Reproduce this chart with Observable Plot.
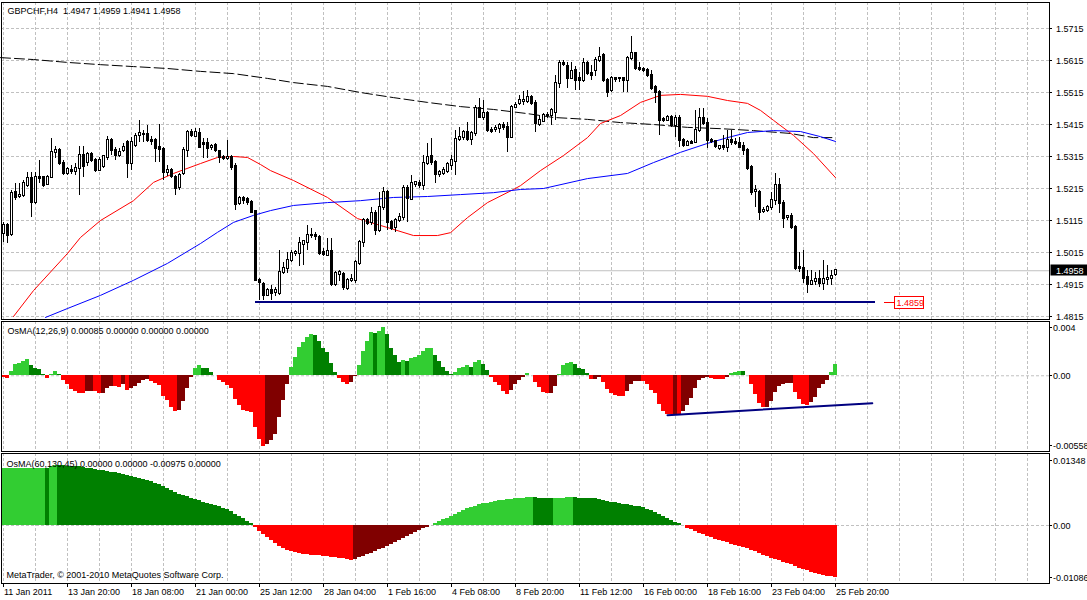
<!DOCTYPE html>
<html><head><meta charset="utf-8"><title>GBPCHF,H4</title>
<script src="https://cdn.jsdelivr.net/npm/d3@7"></script>
<script src="https://cdn.jsdelivr.net/npm/@observablehq/plot@0.6"></script>
<style>
html,body{margin:0;padding:0;background:#fff;overflow:hidden;}
#chart{position:relative;width:1087px;height:600px;background:#fff;}
#chart svg{position:absolute;left:0;display:block;}
</style></head><body><div id="chart"></div>
<script>
// ---------- texts ----------
const symbolTitle = "GBPCHF,H4\u00a0\u00a01.4947 1.4959 1.4941 1.4958";
const osma1Title = "OsMA(12,26,9) 0.00085 0.00000 0.00000 0.00000";
const osma2Title = "OsMA(60,130,45) 0.00000 0.00000 -0.00975 0.00000";
const copyright = "MetaTrader, \u00a9 2001-2010 MetaQuotes Software Corp.";

// ---------- H4 candles (bar 0 = 11 Jan 2011, bar 208 = 25 Feb 20:00) ----------
const opens = [1.5075,1.5099,1.5071,1.5203,1.5190,1.5193,1.5225,1.5246,1.5172,1.5249,
1.5249,1.5228,1.5249,1.5328,1.5334,1.5293,1.5262,1.5271,1.5268,1.5278,
1.5318,1.5296,1.5321,1.5303,1.5271,1.5284,1.5312,1.5365,1.5334,1.5318,
1.5334,1.5359,1.5293,1.5349,1.5381,1.5384,1.5384,1.5365,1.5365,1.5343,
1.5337,1.5265,1.5271,1.5249,1.5218,1.5262,1.5334,1.5390,1.5378,1.5387,
1.5356,1.5356,1.5343,1.5349,1.5331,1.5312,1.5309,1.5312,1.5284,1.5168,
1.5184,1.5181,1.5172,1.5143,1.4928,1.4915,1.4881,1.4896,1.4890,1.4887,
1.4953,1.4965,1.4990,1.5012,1.5012,1.5040,1.5047,1.5068,1.5068,1.5062,
1.5015,1.5006,1.5018,1.4915,1.4946,1.4946,1.4903,1.4928,1.4928,1.4981,
1.5047,1.5115,1.5109,1.5137,1.5084,1.5156,1.5203,1.5109,1.5093,1.5115,
1.5124,1.5215,1.5181,1.5228,1.5231,1.5225,1.5293,1.5315,1.5296,1.5259,
1.5262,1.5268,1.5287,1.5299,1.5368,1.5374,1.5390,1.5368,1.5387,1.5465,
1.5437,1.5450,1.5396,1.5399,1.5402,1.5412,1.5406,1.5374,1.5468,1.5481,
1.5487,1.5487,1.5499,1.5481,1.5415,1.5424,1.5443,1.5443,1.5452,1.5543,
1.5606,1.5596,1.5559,1.5584,1.5559,1.5553,1.5606,1.5574,1.5584,1.5615,
1.5631,1.5553,1.5521,1.5559,1.5559,1.5559,1.5553,1.5621,1.5637,1.5590,
1.5587,1.5584,1.5568,1.5531,1.5515,1.5431,1.5428,1.5437,1.5412,1.5434,
1.5365,1.5349,1.5359,1.5359,1.5396,1.5434,1.5418,1.5365,1.5362,1.5340,
1.5346,1.5343,1.5365,1.5359,1.5356,1.5346,1.5334,1.5281,1.5206,1.5203,
1.5143,1.5146,1.5156,1.5178,1.5225,1.5168,1.5124,1.5128,1.5093,1.4968,
1.4965,1.4937,1.4915,1.4924,1.4931,1.4918,1.4931,1.4934,1.4947];
const highs = [1.5109,1.5106,1.5209,1.5231,1.5231,1.5240,1.5265,1.5265,1.5265,1.5303,
1.5253,1.5256,1.5371,1.5346,1.5340,1.5303,1.5281,1.5287,1.5293,1.5346,
1.5346,1.5328,1.5328,1.5309,1.5312,1.5318,1.5378,1.5371,1.5343,1.5340,
1.5356,1.5365,1.5374,1.5387,1.5428,1.5396,1.5412,1.5378,1.5371,1.5415,
1.5343,1.5287,1.5278,1.5256,1.5262,1.5343,1.5396,1.5399,1.5402,1.5402,
1.5371,1.5371,1.5353,1.5356,1.5334,1.5318,1.5365,1.5318,1.5293,1.5190,
1.5190,1.5187,1.5178,1.5146,1.4934,1.4921,1.4903,1.4912,1.4906,1.5021,
1.4984,1.5015,1.5021,1.5021,1.5062,1.5053,1.5099,1.5090,1.5078,1.5068,
1.5028,1.5059,1.5059,1.4956,1.4959,1.4953,1.4934,1.4946,1.4990,1.5053,
1.5121,1.5121,1.5156,1.5146,1.5203,1.5218,1.5209,1.5115,1.5121,1.5137,
1.5225,1.5225,1.5256,1.5234,1.5240,1.5318,1.5356,1.5371,1.5303,1.5271,
1.5281,1.5296,1.5318,1.5396,1.5406,1.5396,1.5421,1.5393,1.5474,1.5496,
1.5490,1.5456,1.5406,1.5412,1.5418,1.5421,1.5421,1.5474,1.5484,1.5506,
1.5518,1.5521,1.5506,1.5490,1.5443,1.5449,1.5452,1.5465,1.5568,1.5615,
1.5615,1.5609,1.5609,1.5596,1.5578,1.5621,1.5612,1.5599,1.5624,1.5656,
1.5637,1.5559,1.5565,1.5562,1.5562,1.5562,1.5628,1.5690,1.5640,1.5609,
1.5593,1.5590,1.5584,1.5537,1.5521,1.5437,1.5443,1.5443,1.5443,1.5443,
1.5371,1.5365,1.5365,1.5459,1.5465,1.5465,1.5434,1.5371,1.5365,1.5349,
1.5381,1.5396,1.5396,1.5371,1.5374,1.5359,1.5340,1.5287,1.5225,1.5209,
1.5156,1.5162,1.5203,1.5262,1.5246,1.5178,1.5131,1.5137,1.5099,1.5015,
1.5021,1.4959,1.4959,1.4953,1.4959,1.4990,1.4974,1.4959,1.4959];
const lows = [1.5047,1.5044,1.5065,1.5178,1.5184,1.5187,1.5218,1.5124,1.5165,1.5231,
1.5218,1.5225,1.5246,1.5309,1.5287,1.5256,1.5256,1.5259,1.5256,1.5193,
1.5249,1.5284,1.5296,1.5265,1.5268,1.5278,1.5303,1.5318,1.5303,1.5312,
1.5328,1.5246,1.5271,1.5343,1.5359,1.5359,1.5359,1.5349,1.5296,1.5296,
1.5240,1.5253,1.5246,1.5193,1.5209,1.5256,1.5312,1.5374,1.5374,1.5340,
1.5309,1.5309,1.5334,1.5328,1.5293,1.5303,1.5303,1.5271,1.5146,1.5162,
1.5165,1.5162,1.5137,1.4924,1.4865,1.4865,1.4878,1.4865,1.4878,1.4881,
1.4946,1.4949,1.4984,1.5003,1.4971,1.4974,1.5021,1.5059,1.5053,1.5006,
1.5003,1.5003,1.4909,1.4909,1.4924,1.4896,1.4896,1.4921,1.4918,1.4974,
1.5031,1.5099,1.5099,1.5068,1.5078,1.5146,1.5084,1.5084,1.5078,1.5109,
1.5115,1.5109,1.5178,1.5218,1.5215,1.5209,1.5287,1.5287,1.5231,1.5249,
1.5256,1.5262,1.5271,1.5256,1.5362,1.5365,1.5362,1.5349,1.5378,1.5434,
1.5428,1.5390,1.5387,1.5390,1.5387,1.5396,1.5328,1.5371,1.5465,1.5474,
1.5474,1.5481,1.5474,1.5390,1.5409,1.5421,1.5434,1.5412,1.5428,1.5528,
1.5596,1.5528,1.5556,1.5521,1.5521,1.5546,1.5568,1.5553,1.5565,1.5609,
1.5546,1.5499,1.5515,1.5546,1.5546,1.5515,1.5515,1.5615,1.5584,1.5581,
1.5578,1.5562,1.5521,1.5481,1.5381,1.5421,1.5428,1.5406,1.5374,1.5343,
1.5343,1.5346,1.5353,1.5356,1.5390,1.5412,1.5340,1.5356,1.5340,1.5334,
1.5334,1.5328,1.5349,1.5349,1.5340,1.5318,1.5271,1.5193,1.5156,1.5115,
1.5137,1.5140,1.5146,1.5162,1.5137,1.5090,1.5115,1.5087,1.4959,1.4953,
1.4918,1.4887,1.4912,1.4912,1.4906,1.4896,1.4912,1.4912,1.4941];
const closes = [1.5099,1.5068,1.5200,1.5187,1.5193,1.5231,1.5246,1.5172,1.5249,1.5246,
1.5225,1.5249,1.5328,1.5334,1.5293,1.5262,1.5274,1.5268,1.5278,1.5318,
1.5284,1.5321,1.5303,1.5271,1.5303,1.5315,1.5365,1.5334,1.5318,1.5328,
1.5343,1.5293,1.5359,1.5378,1.5387,1.5384,1.5365,1.5362,1.5340,1.5337,
1.5265,1.5271,1.5253,1.5215,1.5256,1.5334,1.5390,1.5381,1.5390,1.5343,
1.5353,1.5340,1.5346,1.5334,1.5312,1.5309,1.5312,1.5281,1.5165,1.5184,
1.5178,1.5172,1.5140,1.4928,1.4921,1.4881,1.4896,1.4887,1.4896,1.4953,
1.4965,1.4990,1.5012,1.5015,1.5044,1.5050,1.5068,1.5068,1.5065,1.5012,
1.5009,1.5018,1.4915,1.4949,1.4953,1.4906,1.4928,1.4931,1.4984,1.5047,
1.5115,1.5106,1.5137,1.5084,1.5156,1.5203,1.5109,1.5090,1.5115,1.5124,
1.5215,1.5184,1.5231,1.5234,1.5225,1.5293,1.5312,1.5296,1.5259,1.5265,
1.5271,1.5290,1.5303,1.5368,1.5374,1.5390,1.5368,1.5387,1.5465,1.5437,
1.5450,1.5396,1.5393,1.5402,1.5412,1.5406,1.5374,1.5468,1.5474,1.5490,
1.5490,1.5499,1.5481,1.5418,1.5428,1.5443,1.5443,1.5459,1.5543,1.5606,
1.5603,1.5559,1.5581,1.5553,1.5553,1.5606,1.5574,1.5568,1.5615,1.5624,
1.5553,1.5515,1.5559,1.5556,1.5559,1.5553,1.5621,1.5637,1.5590,1.5587,
1.5584,1.5568,1.5528,1.5515,1.5428,1.5428,1.5437,1.5412,1.5434,1.5365,
1.5349,1.5359,1.5356,1.5396,1.5434,1.5418,1.5365,1.5362,1.5346,1.5346,
1.5343,1.5365,1.5359,1.5356,1.5343,1.5334,1.5278,1.5203,1.5209,1.5140,
1.5146,1.5156,1.5178,1.5225,1.5168,1.5121,1.5128,1.5093,1.4965,1.4965,
1.4934,1.4915,1.4924,1.4931,1.4918,1.4931,1.4934,1.4940,1.4958];

// ---------- moving averages (bar index, price) ----------
const redMAIdx = [2.5,7.5,16,19.25,24.25,32.5,37.5,42.5,49.25,53.5,57.5,61,64.25,66.75,72.5,81,88.5,96,102.5,108.5,111.75,116,121,127.5,129.25,134.25,140,146,149.25,154.25,159.25,164.25,169.25,176,181,186,189.25,192.5,197.5,202.5,208];
const redMA = [1.4815,1.4896,1.5012,1.5062,1.5115,1.5177,1.5234,1.5262,1.5293,1.5312,1.5315,1.5312,1.5290,1.5271,1.5240,1.5187,1.5121,1.5093,1.5068,1.5068,1.5077,1.5124,1.5171,1.5212,1.5224,1.5271,1.5318,1.5374,1.5418,1.5443,1.5484,1.5506,1.5509,1.5503,1.5490,1.5481,1.5459,1.5428,1.5381,1.5324,1.5249];
const blueMAIdx = [10.5,16,24.25,32.5,41,49.25,53.5,57.5,62.5,66.75,72.5,81,89.25,97.5,106,114.25,122.5,129.25,135,146,156,162.5,169.25,176,181,186,192.5,199.25,204.25,208];
const blueMA = [1.4812,1.4840,1.4881,1.4928,1.4981,1.5043,1.5078,1.5109,1.5131,1.5146,1.5162,1.5171,1.5177,1.5187,1.5190,1.5196,1.5202,1.5212,1.5215,1.5246,1.5262,1.5296,1.5328,1.5356,1.5374,1.5390,1.5396,1.5393,1.5377,1.5362];
const blackMAIdx = [-0.75,7.5,16,24.25,32.5,41,49.25,57.5,66,72.5,81,89.25,97.5,106,114.25,122.5,131,137.5,146,154.25,162.5,171,179.25,187.5,196.75,202.5,208];
const blackMA = [1.5624,1.5618,1.5609,1.5602,1.5596,1.5590,1.5581,1.5574,1.5559,1.5546,1.5534,1.5515,1.5499,1.5484,1.5471,1.5462,1.5449,1.5437,1.5431,1.5421,1.5415,1.5406,1.5402,1.5396,1.5387,1.5374,1.5374];

const priceTicks = [1.5715,1.5615,1.5515,1.5415,1.5315,1.5215,1.5115,1.5015,1.4915,1.4815];
const bidPrice = 1.4958;
const supportLine = [{i1: 63, i2: 218, price: 1.4859}];
const supportLabel = "1.4859";

// ---------- OsMA(12,26,9) ----------
const osma1 = [-0.00009,-0.00018,0.00032,0.00081,0.00088,0.00106,0.00118,0.00073,0.00051,0.00049,
0.00009,-0.00022,0.00009,0.00032,0.00009,-0.00035,-0.00066,-0.00101,-0.00115,-0.00127,
-0.00129,-0.00115,-0.00113,-0.00115,-0.00133,-0.00127,-0.00096,-0.00079,-0.0008,-0.00083,
-0.00066,-0.00108,-0.00096,-0.00079,-0.00054,-0.00037,-0.00029,-0.00042,-0.00059,-0.00071,
-0.0015,-0.00181,-0.00236,-0.00265,-0.00255,-0.00189,-0.00096,-0.00015,0.00051,0.00073,
0.00057,0.00051,0.00027,0.00003,-0.00035,-0.00053,-0.00071,-0.00096,-0.00177,-0.00221,
-0.00256,-0.00265,-0.00274,-0.0038,-0.00469,-0.00522,-0.00508,-0.00477,-0.00433,-0.00309,
-0.00181,-0.00062,0.00059,0.00137,0.00212,0.00248,0.00283,0.00301,0.00299,0.00256,
0.00203,0.00168,0.00093,0.00027,-0.00022,-0.00053,-0.00062,-0.00053,-0.00005,0.00076,
0.00177,0.00256,0.00318,0.00315,0.00327,0.00354,0.00301,0.00203,0.0015,0.00096,
0.00111,0.00106,0.0013,0.00137,0.0015,0.00177,0.00199,0.00203,0.0015,0.00106,
0.00059,0.00032,0.00009,0.00022,0.00051,0.00059,0.00073,0.00064,0.00096,0.00111,
0.00081,0.00037,-0.00015,-0.00047,-0.00071,-0.00113,-0.00141,-0.00108,-0.00064,-0.00035,
-0.00009,0.00015,0.00004,-0.00051,-0.00088,-0.0012,-0.00133,-0.00131,-0.00079,0.00009,
0.00076,0.00088,0.00096,0.00081,0.00051,0.00044,0.00015,-0.00029,-0.00027,-0.00015,
-0.00051,-0.00101,-0.00133,-0.00145,-0.00152,-0.00154,-0.00115,-0.00064,-0.00042,-0.0004,
-0.00042,-0.00064,-0.00108,-0.00133,-0.00212,-0.0026,-0.00287,-0.00289,-0.00287,-0.00292,
-0.00265,-0.00221,-0.00168,-0.00096,-0.00035,-0.00022,-0.00015,-0.00018,-0.00027,-0.00028,
-0.00029,-0.00015,0.00015,0.00027,0.00032,0.0003,0.00003,-0.00066,-0.00141,-0.00203,
-0.00236,-0.00234,-0.00189,-0.0012,-0.00079,-0.00066,-0.0006,-0.00058,-0.00124,-0.00177,
-0.00212,-0.00221,-0.00195,-0.00162,-0.00096,-0.00064,-0.00035,0.00027,0.00085];
const trendIdx = [166, 217.2];
const trendVal = [-0.0029, -0.00202];
const axis2Values = [0.004, 0, -0.00558];
const axis2Labels = ["0.004", "0.00", "-0.00558"];

// ---------- OsMA(60,130,45) ----------
const osma2 = [0.01061,0.01062,0.01063,0.01064,0.01065,0.01067,0.01068,0.01069,0.0107,0.01071,
0.01073,0.0107,0.01098,0.01123,0.01117,0.01114,0.01111,0.01108,0.01104,0.01098,
0.01086,0.01073,0.01061,0.01048,0.01036,0.01023,0.01017,0.00998,0.00986,0.00973,
0.00955,0.00942,0.00924,0.00905,0.00886,0.00867,0.00849,0.00824,0.00792,0.00761,
0.00724,0.00686,0.00649,0.00612,0.00587,0.00562,0.00537,0.00512,0.00487,0.00462,
0.00437,0.00412,0.00393,0.00374,0.00349,0.00324,0.00293,0.00256,0.00212,0.00168,
0.00125,0.00081,0.00037,-0.00044,-0.00112,-0.00175,-0.00225,-0.00281,-0.00337,-0.00387,
-0.00424,-0.00462,-0.00487,-0.00512,-0.00524,-0.00537,-0.00549,-0.00555,-0.00562,-0.00568,
-0.0058,-0.00587,-0.00599,-0.00605,-0.00612,-0.00624,-0.00636,-0.00655,-0.0063,-0.00605,
-0.00574,-0.00549,-0.00518,-0.00487,-0.00456,-0.00424,-0.00387,-0.00356,-0.00318,-0.00287,
-0.0025,-0.00212,-0.00175,-0.00137,-0.001,-0.00062,-0.00031,-0.00006,0.00031,0.00069,
0.00106,0.00137,0.00175,0.00206,0.00243,0.00281,0.00312,0.00337,0.00362,0.00387,
0.00406,0.00418,0.00437,0.00449,0.00462,0.00474,0.00487,0.00493,0.00499,0.00505,
0.00512,0.00515,0.00518,0.00515,0.00512,0.00509,0.00505,0.00502,0.00505,0.00509,
0.00512,0.00515,0.00518,0.00515,0.00512,0.00509,0.00505,0.00502,0.00499,0.00487,
0.00468,0.00449,0.00437,0.00424,0.00412,0.00399,0.00387,0.00374,0.00362,0.00349,
0.00331,0.00306,0.00275,0.00243,0.00212,0.00175,0.00137,0.001,0.00062,0.00031,
0.00006,-0.0005,-0.00081,-0.00112,-0.00144,-0.00175,-0.00206,-0.00231,-0.00256,-0.00281,
-0.00306,-0.00324,-0.00349,-0.00374,-0.00393,-0.00418,-0.00437,-0.00462,-0.00493,-0.00524,
-0.00555,-0.00587,-0.00612,-0.00636,-0.00661,-0.00686,-0.00711,-0.00736,-0.00768,-0.00799,
-0.00824,-0.00849,-0.00874,-0.00899,-0.00917,-0.00936,-0.00948,-0.00961,-0.00975];
const axis3Values = [0.01348, 0, -0.01086];
const axis3Labels = ["0.01348", "0.00", "-0.01086"];

// ---------- time axis ----------
const timeIdx = [0,16,32,48,64,80,96,112,128,144,160,176,192,208];
const timeLabels = ["11 Jan 2011","13 Jan 20:00","18 Jan 08:00","21 Jan 00:00","25 Jan 12:00","28 Jan 04:00","1 Feb 16:00","4 Feb 08:00","8 Feb 20:00","11 Feb 12:00","16 Feb 00:00","18 Feb 16:00","23 Feb 04:00","25 Feb 20:00"];
const gridIdx = [0,8,16,24,32,40,48,56,64,72,80,88,96,104,112,120,128,136,144,152,160,168,176,184,192,200,208,216,224,232,240,248,256];

// ---------- rendering ----------
const FONT = "'Liberation Sans', Arial, sans-serif";
const W = 1087;
const GRID = "#c0c0c0";
const COL = {lg: "#32cd32", dg: "#008000", rd: "#ff0000", dr: "#800000"};
const XSCALE = {domain: [0, 208], range: [3, 835], axis: null};
const STYLE = {fontFamily: FONT, fontSize: "9px", color: "black", background: "white", overflow: "visible"};

const bars = closes.map((c, i) => ({i, o: opens[i], h: highs[i], l: lows[i], c}));
function hist(vals) {
  return vals.map((v, i) => {
    const p = i > 0 ? vals[i - 1] : null;
    let fillColor;
    if (v >= 0) fillColor = (p === null || v > p) ? COL.lg : COL.dg;
    else fillColor = (p === null || v < p) ? COL.rd : COL.dr;
    return {i, v, fillColor};
  });
}
function group() {
  return d3.create("svg:g").attr("font-family", FONT).attr("font-size", 9).attr("text-anchor", "start");
}

function rightAxis(values, labels, offsets, textGap) {
  return (index, scales, vals, dims) => {
    const g = group().attr("fill", "black");
    const x0 = dims.width - dims.marginRight;
    values.forEach((v, k) => {
      const yy = Math.round(scales.y(v) + (offsets ? offsets[k] : 0)) + 0.5;
      g.append("line").attr("x1", x0).attr("x2", x0 + 3).attr("y1", yy).attr("y2", yy).attr("stroke", "black");
      g.append("text").attr("x", x0 + textGap).attr("y", yy).attr("dy", "0.35em").text(labels[k]);
    });
    return g.node();
  };
}

const bidMark = (index, scales, vals, dims) => {
  const g = group();
  const x0 = dims.width - dims.marginRight;
  const yy = Math.round(scales.y(bidPrice));
  g.append("rect").attr("x", x0 + 1.5).attr("y", yy - 5.5).attr("width", dims.width - x0).attr("height", 11).attr("fill", "black");
  g.append("text").attr("x", x0 + 7).attr("y", yy + 0.5).attr("dy", "0.35em").attr("fill", "white").text(bidPrice.toFixed(4));
  return g.node();
};

const supportLabelMark = (index, scales) => {
  const s = supportLine[0];
  const g = group();
  const x0 = Math.round(scales.x(s.i2)), yy = Math.round(scales.y(s.price)) + 0.5;
  g.append("line").attr("x1", x0 + 9).attr("x2", x0 + 19).attr("y1", yy).attr("y2", yy).attr("stroke", "red");
  g.append("rect").attr("x", x0 + 19.5).attr("y", yy - 6).attr("width", 29).attr("height", 12).attr("fill", "white").attr("stroke", "red");
  g.append("text").attr("x", x0 + 21.5).attr("y", yy).attr("dy", "0.35em").attr("fill", "red").text(supportLabel);
  return g.node();
};

const timeAxis = (index, scales, vals, dims) => {
  const g = group().attr("fill", "black");
  const yb = dims.height - dims.marginBottom;
  timeIdx.forEach((t, k) => {
    const xx = Math.round(scales.x(t)) + 0.5;
    g.append("line").attr("x1", xx).attr("x2", xx).attr("y1", yb).attr("y2", yb + 4).attr("stroke", "black");
    g.append("text").attr("x", xx + 0.5).attr("y", yb + 9).attr("dy", "0.35em").text(timeLabels[k]);
  });
  return g.node();
};

const p1 = Plot.plot({
  width: W, height: 320, marginLeft: 1, marginRight: 38, marginTop: 2, marginBottom: 1,
  style: STYLE, color: {type: "identity"},
  x: XSCALE,
  y: {domain: [1.4815, 1.5715], range: [316, 28], axis: null},
  marks: [
    Plot.ruleX(gridIdx, {x: d => d, stroke: GRID, strokeDasharray: "3,2"}),
    Plot.ruleY(priceTicks, {y: d => d, stroke: GRID, strokeDasharray: "3,2"}),
    Plot.ruleY([bidPrice], {y: d => d, stroke: GRID}),
    Plot.line(blackMA, {x: blackMAIdx, y: blackMA, stroke: "black", strokeWidth: 1, strokeDasharray: "10,4"}),
    Plot.line(redMA, {x: redMAIdx, y: redMA, stroke: "#ff0000", strokeWidth: 1}),
    Plot.line(blueMA, {x: blueMAIdx, y: blueMA, stroke: "#0000ff", strokeWidth: 1}),
    Plot.ruleX(bars, {x: "i", y1: "l", y2: "h", stroke: "black", strokeWidth: 1, shapeRendering: "crispEdges"}),
    Plot.rect(bars, {x1: d => d.i - 0.25, x2: d => d.i + 0.25, y1: "o", y2: "c",
      fill: d => d.c >= d.o ? "white" : "black", stroke: "black", strokeWidth: 1,
      insetTop: -0.25, insetBottom: -0.25, shapeRendering: "crispEdges"}),
    Plot.ruleY(supportLine, {x1: "i1", x2: "i2", y: "price", stroke: "#000080", strokeWidth: 2, shapeRendering: "crispEdges"}),
    supportLabelMark,
    rightAxis(priceTicks, priceTicks.map(d => d.toFixed(4)), null, 7),
    bidMark,
    Plot.frame({stroke: "black"}),
    Plot.text([symbolTitle], {frameAnchor: "top-left", textAnchor: "start", lineAnchor: "middle", dx: 6, dy: 9, fill: "black", fontSize: 9})
  ]
});

const p2 = Plot.plot({
  width: W, height: 132, marginLeft: 1, marginRight: 38, marginTop: 1, marginBottom: 1,
  style: STYLE, color: {type: "identity"},
  x: XSCALE,
  y: {domain: [-0.00558, 0.004], range: [131, 1], axis: null},
  marks: [
    Plot.ruleX(gridIdx, {x: d => d, stroke: GRID, strokeDasharray: "3,2"}),
    Plot.ruleY([0], {y: d => d, stroke: GRID, strokeDasharray: "3,2"}),
    Plot.rect(hist(osma1), {x1: d => d.i - 0.5, x2: d => d.i + 0.5, y1: d => 0, y2: "v", fill: "fillColor", shapeRendering: "crispEdges"}),
    Plot.line(trendVal, {x: trendIdx, y: trendVal, stroke: "#000080", strokeWidth: 2}),
    rightAxis(axis2Values, axis2Labels, [6, 0, -6], 4),
    Plot.frame({stroke: "black"}),
    Plot.text([osma1Title], {frameAnchor: "top-left", textAnchor: "start", lineAnchor: "middle", dx: 6, dy: 10, fill: "black", fontSize: 9})
  ]
});

const p3 = Plot.plot({
  width: W, height: 148, marginLeft: 1, marginRight: 38, marginTop: 1, marginBottom: 17,
  style: STYLE, color: {type: "identity"},
  x: XSCALE,
  y: {domain: [-0.01086, 0.01348], range: [131, 1], axis: null},
  marks: [
    Plot.ruleX(gridIdx, {x: d => d, stroke: GRID, strokeDasharray: "3,2"}),
    Plot.ruleY([0], {y: d => d, stroke: GRID, strokeDasharray: "3,2"}),
    Plot.rect(hist(osma2), {x1: d => d.i - 0.5, x2: d => d.i + 0.5, y1: d => 0, y2: "v", fill: "fillColor", shapeRendering: "crispEdges"}),
    rightAxis(axis3Values, axis3Labels, [7, 0, -6], 4),
    timeAxis,
    Plot.frame({stroke: "black"}),
    Plot.text([osma2Title], {frameAnchor: "top-left", textAnchor: "start", lineAnchor: "middle", dx: 5, dy: 11, fill: "black", fontSize: 9}),
    Plot.text([copyright], {frameAnchor: "bottom-left", textAnchor: "start", lineAnchor: "middle", dx: 5, dy: -8, fill: "black", fontSize: 9})
  ]
});

const chart = document.getElementById("chart");
[[p1, 0], [p2, 320], [p3, 452]].forEach(([svg, top]) => {
  svg.style.position = "absolute";
  svg.style.top = top + "px";
  svg.style.left = "0px";
  chart.appendChild(svg);
});
</script>
</body></html>
